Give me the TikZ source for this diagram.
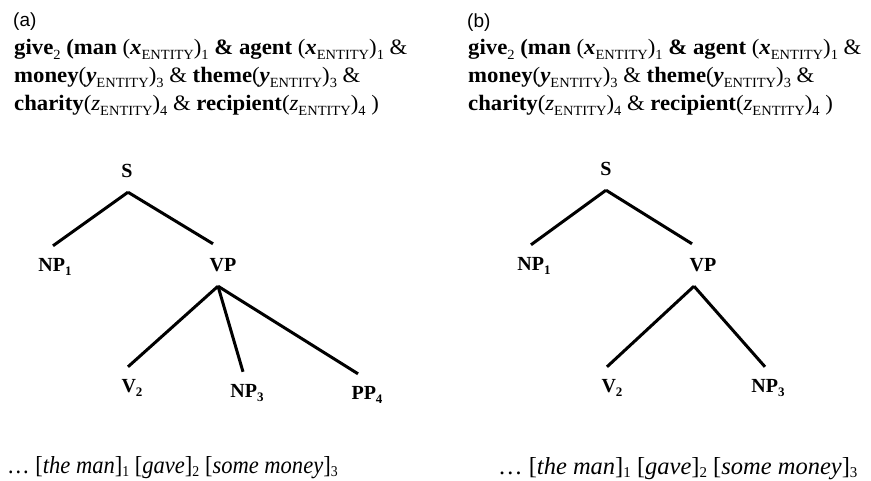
\documentclass[tikz,border=0pt]{standalone}
\usepackage{fontspec}
\setmainfont{Liberation Serif}
\newfontfamily\arialfont{Liberation Sans}
\usetikzlibrary{calc}
\newcommand\Sub[1]{\raisebox{-0.2em}{\fontsize{14}{14}\selectfont\mdseries\upshape #1}}
\newcommand\Ent{\raisebox{-0.2em}{\fontsize{14}{14}\selectfont\mdseries\upshape ENTITY}}
\newcommand\BSub[1]{\raisebox{-0.2em}{\fontsize{13}{13}\selectfont\bfseries #1}}
\newcommand\ISub[1]{\raisebox{-0.15em}{\fontsize{15}{15}\selectfont\mdseries\upshape #1}}
\newcommand\FormA{\scalebox{1.035}[1]{\textbf{give}\Sub{2} \textbf{(man} (\textbf{\textit{x}}\Ent)\Sub{1} \textbf{\& agent} (\textbf{\textit{x}}\Ent)\Sub{1} \&}}
\newcommand\FormB{\scalebox{1.035}[1]{\textbf{money}(\textbf{\textit{y}}\Ent)\Sub{3} \& \textbf{theme}(\textbf{\textit{y}}\Ent)\Sub{3} \&}}
\newcommand\FormC{\scalebox{1.035}[1]{\textbf{charity}(\textit{z}\Ent)\Sub{4} \& \textbf{recipient}(\textit{z}\Ent)\Sub{4} )}}
\newcommand\Phrase{\dots\ [\textit{the man}]\ISub{1} [\textit{gave}]\ISub{2} [\textit{some money}]\ISub{3}}
\tikzset{
  panel/.style={font=\arialfont\fontsize{19}{19}\selectfont, anchor=base west, inner sep=0pt},
  formula/.style={font=\fontsize{22}{22}\selectfont, anchor=base west, inner sep=0pt},
  phrase/.style={font=\fontsize{24.5}{24.5}\selectfont, anchor=base west, inner sep=0pt},
  cat/.style={font=\fontsize{20}{20}\selectfont\bfseries, minimum height=42pt, inner sep=0pt},
  branch/.style={line width=3pt, black}
}
\begin{document}
\begin{tikzpicture}[x=1pt,y=-1pt]
\useasboundingbox (0,0) rectangle (871,481);
% panel (a)
\node[panel] (la) at (13,27) {(a)};
\node[formula] (fa1) at (14,55) {\FormA};
\node[formula] (fa2) at (14,83) {\FormB};
\node[formula] (fa3) at (14,111) {\FormC};
\node[cat] (aS) at (127,171) {S};
\node[cat] (aNP1) at (55,267) {NP\BSub{1}};
\node[cat] (aVP) at (223,265) {VP};
\node[cat] (aV2) at (132,388) {V\BSub{2}};
\node[cat] (aNP3) at (247,393) {NP\BSub{3}};
\node[cat] (aPP4) at (367,395) {PP\BSub{4}};
\draw[branch] ([xshift=1pt]aS.south) -- ([xshift=-2pt]aNP1.north);
\draw[branch] ([xshift=1pt]aS.south) -- ([xshift=-10pt]aVP.north);
\draw[branch] ([xshift=-5pt]aVP.south) -- ([xshift=-4pt]aV2.north);
\draw[branch] ([xshift=-5pt]aVP.south) -- ([xshift=-4pt]aNP3.north);
\draw[branch] ([xshift=-5pt]aVP.south) -- ([xshift=-9pt]aPP4.north);
\node[phrase] (pa) at (7,473) {\scalebox{0.92}[1]{\Phrase}};
% panel (b)
\node[panel] (lb) at (467,28) {(b)};
\node[formula] (fb1) at (468,55) {\FormA};
\node[formula] (fb2) at (468,83) {\FormB};
\node[formula] (fb3) at (468,111) {\FormC};
\node[cat] (bS) at (606,169) {S};
\node[cat] (bNP1) at (534,266) {NP\BSub{1}};
\node[cat] (bVP) at (703,265) {VP};
\node[cat] (bV2) at (612,388) {V\BSub{2}};
\node[cat] (bNP3) at (768,388) {NP\BSub{3}};
\draw[branch] (bS.south) -- ([xshift=-3pt]bNP1.north);
\draw[branch] (bS.south) -- ([xshift=-11pt]bVP.north);
\draw[branch] ([xshift=-9pt]bVP.south) -- ([xshift=-5pt]bV2.north);
\draw[branch] ([xshift=-9pt]bVP.south) -- ([xshift=-3pt]bNP3.north);
\node[phrase] (pb) at (498,474) {\Phrase};
\end{tikzpicture}
\end{document}
